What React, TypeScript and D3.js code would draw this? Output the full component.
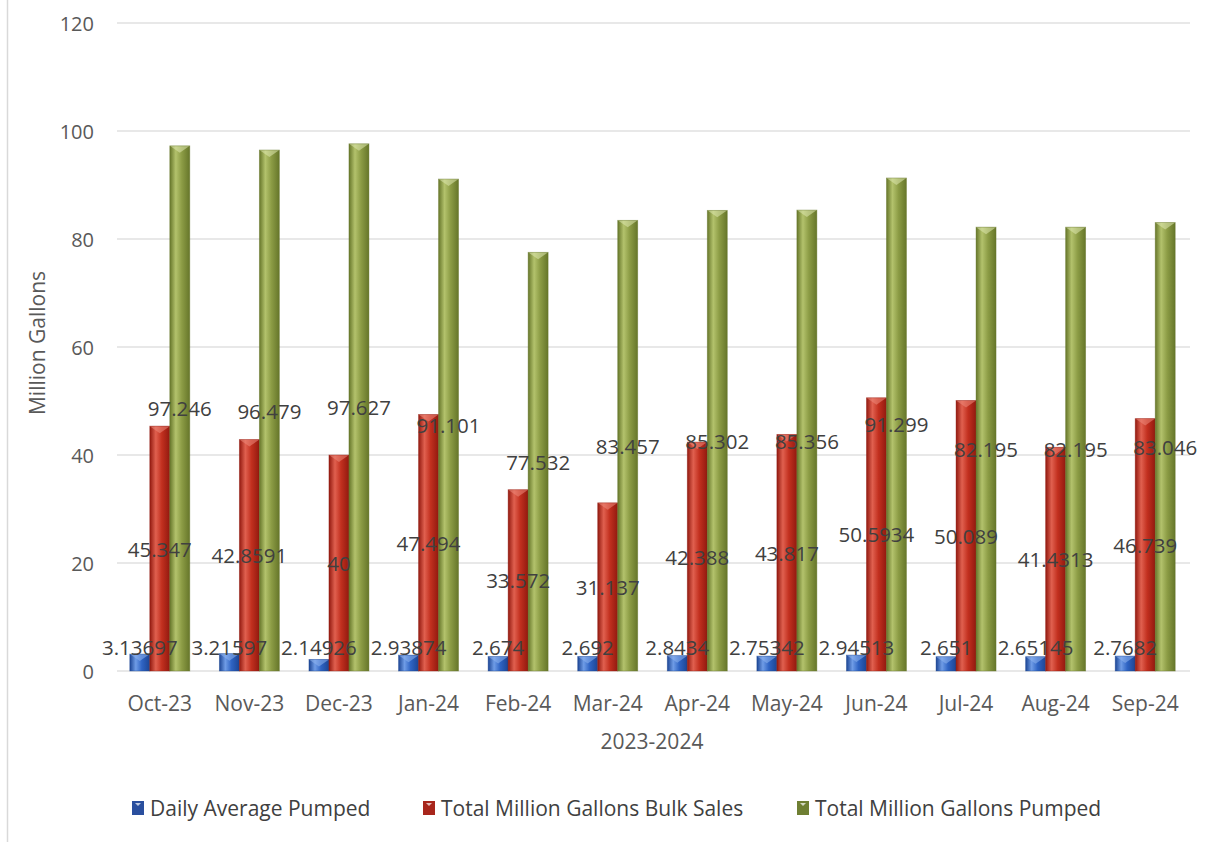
import React from "react";
import * as d3 from "d3";

const categories = ["Oct-23", "Nov-23", "Dec-23", "Jan-24", "Feb-24", "Mar-24", "Apr-24", "May-24", "Jun-24", "Jul-24", "Aug-24", "Sep-24"];
const dailyAverage = [3.13697, 3.21597, 2.14926, 2.93874, 2.674, 2.692, 2.8434, 2.75342, 2.94513, 2.651, 2.65145, 2.7682];
const bulkSales = [45.347, 42.8591, 40, 47.494, 33.572, 31.137, 42.388, 43.817, 50.5934, 50.089, 41.4313, 46.739];
const totalPumped = [97.246, 96.479, 97.627, 91.101, 77.532, 83.457, 85.302, 85.356, 91.299, 82.195, 82.195, 83.046];
const seriesNames = ["Daily Average Pumped", "Total Million Gallons Bulk Sales", "Total Million Gallons Pumped"];
const yTicks = [0, 20, 40, 60, 80, 100, 120];

const W = 1217;
const H = 842;
const FONT = "'Open Sans', 'Noto Sans', sans-serif";

const palettes = [
  { id: "gBlue", dark: "#1c4594", mid: "#2f64c4", light: "#6f9ce6", top: "#8fb4ee", legend: "#2a4f9e" },
  { id: "gRed", dark: "#92190f", mid: "#c2301f", light: "#e0604f", top: "#ec8a7c", legend: "#a8261c" },
  { id: "gGreen", dark: "#66762a", mid: "#8c9c45", light: "#b3c26c", top: "#dfe7b0", legend: "#6f7f33" },
];

export default function App() {
  const series = [dailyAverage, bulkSales, totalPumped];
  const x = d3.scaleBand<string>().domain(categories).range([115, 1190]).paddingInner(0).paddingOuter(0);
  const y = d3.scaleLinear().domain([0, 120]).range([671, 23]);
  const barW = 20;
  const groupW = barW * 3;
  const inner = d3.scaleBand<number>().domain([0, 1, 2]).range([0, groupW]).padding(0);

  const barX = (ci: number, si: number) => (x(categories[ci]) as number) + x.bandwidth() / 2 - groupW / 2 + (inner(si) as number);

  const labelY = (si: number, v: number) => {
    const mid = y(v / 2);
    return si === 0 ? Math.min(mid, y(0) - 24) : mid;
  };

  const legendX = [132, 423, 797];

  return (
    <div style={{ position: "absolute", left: 0, top: 0 }}>
      <svg width={W} height={H} style={{ display: "block", background: "#ffffff" }}>
        <defs>
          {palettes.map((p) => (
            <linearGradient key={p.id} id={p.id} x1="0" x2="1" y1="0" y2="0">
              <stop offset="0%" stopColor={p.dark} />
              <stop offset="30%" stopColor={p.light} />
              <stop offset="60%" stopColor={p.mid} />
              <stop offset="100%" stopColor={p.dark} />
            </linearGradient>
          ))}
        </defs>
        {/* outer frame line */}
        <line x1={7.5} x2={7.5} y1={0} y2={H} stroke="#d9d9d9" strokeWidth={1.5} />

        {/* gridlines */}
        {yTicks.map((t) => (
          <line key={"g" + t} x1={117} x2={1190} y1={y(t)} y2={y(t)} stroke="#e0e0e0" strokeWidth={1.5} />
        ))}
        {/* y tick labels */}
        {yTicks.map((t) => (
          <text key={"t" + t} x={94} y={y(t)} textAnchor="end" dominantBaseline="central" fontFamily={FONT} fontSize={20} fill="#595959">
            {t}
          </text>
        ))}

        {/* bars */}
        {series.map((vals, si) =>
          vals.map((v, ci) => {
            const bx = barX(ci, si);
            const top = y(v);
            const h = y(0) - top;
            const p = palettes[si];
            return (
              <g key={`b${si}-${ci}`}>
                <rect x={bx} y={top} width={barW} height={h} fill={`url(#${p.id})`} />
                <path
                  d={`M${bx},${top} L${bx + barW},${top} L${bx + barW * 0.5},${top + 7} Z`}
                  fill={p.top}
                  opacity={0.55}
                />
                <rect x={bx} y={top} width={barW} height={h} fill="none" stroke={p.dark} strokeOpacity={0.5} strokeWidth={0.8} />
              </g>
            );
          })
        )}

        {/* data labels */}
        {series.map((vals, si) =>
          vals.map((v, ci) => (
            <text
              key={`l${si}-${ci}`}
              x={barX(ci, si) + barW / 2}
              y={labelY(si, v)}
              textAnchor="middle"
              dominantBaseline="central"
              fontFamily={FONT}
              fontSize={20.5}
              fill="#404040"
            >
              {String(v)}
            </text>
          ))
        )}

        {/* category labels */}
        {categories.map((c) => (
          <text key={c} x={(x(c) as number) + x.bandwidth() / 2} y={703} textAnchor="middle" dominantBaseline="central" fontFamily={FONT} fontSize={21} fill="#595959">
            {c}
          </text>
        ))}

        {/* axis titles */}
        <text x={652} y={741} textAnchor="middle" dominantBaseline="central" fontFamily={FONT} fontSize={21} fill="#595959">
          2023-2024
        </text>
        <text transform={`translate(37,343) rotate(-90)`} textAnchor="middle" dominantBaseline="central" fontFamily={FONT} fontSize={21} fill="#595959">
          Million Gallons
        </text>

        {/* legend */}
        {seriesNames.map((n, i) => (
          <g key={n}>
            <rect x={legendX[i]} y={801} width={12} height={14} fill={palettes[i].legend} />
            <path d={`M${legendX[i] + 3},${803} L${legendX[i] + 9},${803} L${legendX[i] + 6},${806} Z`} fill="#ffffff" opacity={0.7} />
            <text x={legendX[i] + 18} y={808} dominantBaseline="central" fontFamily={FONT} fontSize={21} fill="#404040">
              {n}
            </text>
          </g>
        ))}
      </svg>
    </div>
  );
}
